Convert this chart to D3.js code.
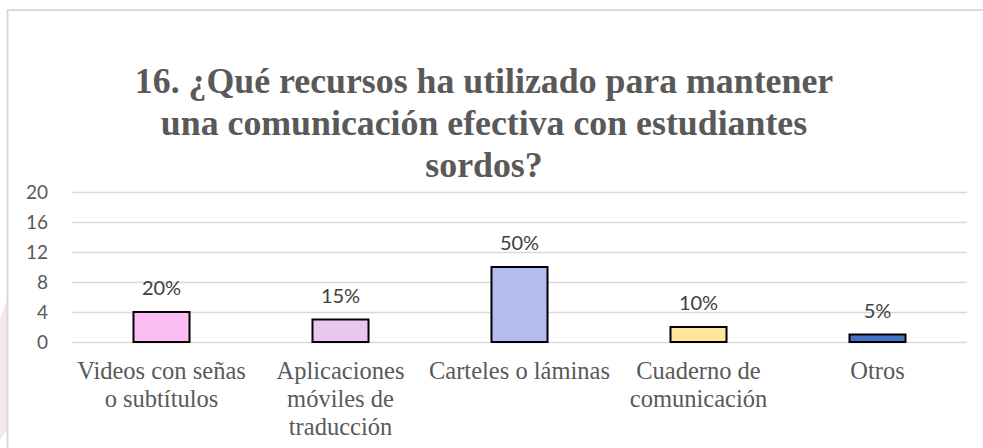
<!DOCTYPE html>
<html>
<head>
<meta charset="utf-8">
<script src="https://cdn.jsdelivr.net/npm/d3@7"></script>
<style>
  body { margin: 0; background: #fff; }
  svg { display: block; }
</style>
</head>
<body>
<div id="chart"></div>
<script>
// 16. ¿Qué recursos ha utilizado... - bar chart
var categories = [
  ["Videos con señas", "o subtítulos"],
  ["Aplicaciones", "móviles de", "traducción"],
  ["Carteles o láminas"],
  ["Cuaderno de", "comunicación"],
  ["Otros"]
];
var values = [4, 3, 10, 2, 1];
var percents = ["20%", "15%", "50%", "10%", "5%"];
var colors = ["#fbbdf2", "#e8c8ee", "#b4bcef", "#ffe699", "#4472c4"];
var yTicks = [0, 4, 8, 12, 16, 20];
var titleLines = [
  "16. ¿Qué recursos ha utilizado para mantener",
  "una comunicación efectiva con estudiantes",
  "sordos?"
];

var width = 983,
    height = 448,
    margin = {top: 192, right: 16, bottom: 106, left: 72};

var svg = d3.select("#chart").append("svg")
    .attr("width", width)
    .attr("height", height);

// faint watermark at the left edge
svg.append("path")
    .attr("d", "M0,318 L7,300 L7,430 L0,440 Z")
    .attr("fill", "#f3d6d8")
    .attr("opacity", 0.6);

// chart frame (top and left edge visible)
svg.append("path")
    .attr("d", "M7.5,448 L7.5,10 L983,10")
    .attr("fill", "none")
    .attr("stroke", "#d9d9d9")
    .attr("stroke-width", 2);

var x = d3.scaleBand()
    .domain(d3.range(values.length))
    .range([margin.left, width - margin.right])
    .paddingInner(0.687)
    .paddingOuter(0.3435);

var y = d3.scaleLinear()
    .domain([0, 20])
    .range([height - margin.bottom, margin.top]);

// title
svg.append("text")
    .attr("text-anchor", "middle")
    .attr("fill", "#595959")
    .style("font-family", "'Liberation Serif', 'Times New Roman', serif")
    .style("font-weight", "bold")
    .style("font-size", "35.8px")
    .selectAll("tspan")
    .data(titleLines)
    .enter().append("tspan")
      .attr("x", 484)
      .attr("y", function(d, i) { return 93 + i * 42; })
      .text(function(d) { return d; });

// gridlines + y labels
var yAxis = svg.append("g")
    .attr("transform", "translate(" + margin.left + ",0)")
    .call(d3.axisLeft(y).tickValues(yTicks).tickSize(-(width - margin.left - margin.right)).tickPadding(24));
yAxis.select(".domain").remove();
yAxis.selectAll(".tick line").attr("stroke", "#d9d9d9").attr("stroke-width", 1.5);
yAxis.selectAll(".tick text")
    .attr("fill", "#595959")
    .style("font-family", "Lato, 'Open Sans', sans-serif")
    .style("font-size", "19px");

// bars
svg.selectAll(".bar")
    .data(values)
    .enter().append("rect")
      .attr("class", "bar")
      .attr("x", function(d, i) { return x(i); })
      .attr("y", function(d) { return y(d); })
      .attr("width", x.bandwidth())
      .attr("height", function(d) { return y(0) - y(d); })
      .attr("fill", function(d, i) { return colors[i]; })
      .attr("stroke", "#000")
      .attr("stroke-width", 2);

// data labels
svg.selectAll(".bartext")
    .data(values)
    .enter().append("text")
      .attr("class", "bartext")
      .attr("text-anchor", "middle")
      .attr("fill", "#404040")
      .style("font-family", "Lato, 'Open Sans', sans-serif")
      .style("font-size", "20px")
      .attr("x", function(d, i) { return x(i) + x.bandwidth() / 2; })
      .attr("y", function(d) { return y(d) - 17; })
      .text(function(d, i) { return percents[i]; });

// category labels
var cat = svg.selectAll(".cat")
    .data(categories)
    .enter().append("text")
      .attr("class", "cat")
      .attr("text-anchor", "middle")
      .attr("fill", "#595959")
      .style("font-family", "'Liberation Serif', 'Times New Roman', serif")
      .style("font-size", "24.5px");
cat.each(function(lines, i) {
  d3.select(this).selectAll("tspan")
    .data(lines)
    .enter().append("tspan")
      .attr("x", x(i) + x.bandwidth() / 2)
      .attr("y", function(d, j) { return y(0) + 37 + j * 28; })
      .text(function(d) { return d; });
});
</script>
</body>
</html>
